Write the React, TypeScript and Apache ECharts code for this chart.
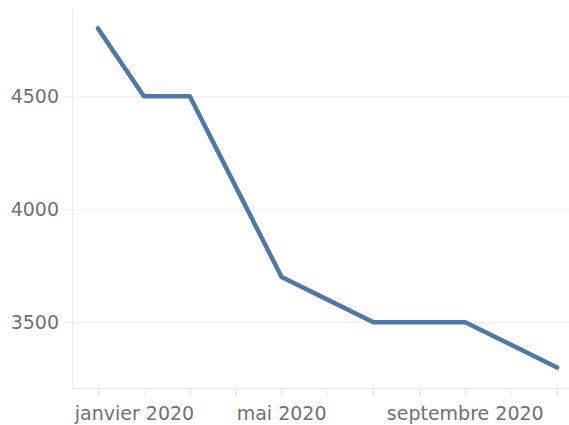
import React, { useEffect, useRef } from "react";
import * as echarts from "echarts";

const monthLabels = [
  "janvier 2020", "février 2020", "mars 2020", "avril 2020", "mai 2020", "juin 2020",
  "juillet 2020", "août 2020", "septembre 2020", "octobre 2020", "novembre 2020",
];
const values = [4800, 4500, 4500, 4100, 3700, 3600, 3500, 3500, 3500, 3400, 3300];
const xLabelIndices = [0, 4, 8];
const yTickValues = [3500, 4000, 4500];

export default function App() {
  const ref = useRef<HTMLDivElement>(null);
  useEffect(() => {
    if (!ref.current) return;
    const chart = echarts.init(ref.current, null, { renderer: "svg" });
    const font = "DejaVu Sans";
    const labelColor = "#707070";
    const lineColor = "#ebebeb";
    const fontSize = 19;
    chart.setOption({
      animation: false,
      grid: { left: 72, right: 0, top: 9, bottom: 37, containLabel: false },
      xAxis: {
        type: "value",
        min: -0.566,
        max: 10.26,
        axisLine: { show: true, onZero: false, lineStyle: { color: lineColor, width: 1 } },
        axisTick: {
          show: true,
          length: 8,
          lineStyle: { color: lineColor },
          customValues: monthLabels.map((_, i) => i),
        },
        axisLabel: {
          customValues: xLabelIndices,
          color: labelColor,
          fontFamily: font,
          fontSize,
          margin: 15,
          formatter: (v: number) => {
            const idx = Math.round(v);
            const t = monthLabels[idx] ?? "";
            return idx === 0 ? "{first|" + t + "}" : t;
          },
          rich: {
            first: {
              padding: [0, 0, 0, 73],
              color: labelColor,
              fontFamily: font,
              fontSize,
            },
          },
        },
        splitLine: { show: false },
      },
      yAxis: {
        type: "value",
        min: 3209,
        max: 4886,
        axisLine: { show: true, onZero: false, lineStyle: { color: lineColor, width: 1 } },
        axisTick: {
          show: true,
          length: 8,
          lineStyle: { color: "#f0f0f0" },
          customValues: yTickValues,
        },
        axisLabel: {
          customValues: yTickValues,
          color: labelColor,
          fontFamily: font,
          fontSize,
          margin: 13,
          formatter: (v: number) => String(v),
        },
        splitLine: { show: true, lineStyle: { color: "#f0f0f0", width: 1 } },
      },
      series: [
        {
          type: "line",
          data: values.map((v, i) => [i, v]),
          showSymbol: false,
          symbol: "none",
          lineStyle: { color: "#4e79a7", width: 4.5, cap: "round", join: "round" },
        },
      ],
    });
    return () => chart.dispose();
  }, []);
  return (
    <div
      ref={ref}
      style={{ position: "fixed", left: 0, top: 0, width: 569, height: 425, background: "#fff" }}
    />
  );
}
